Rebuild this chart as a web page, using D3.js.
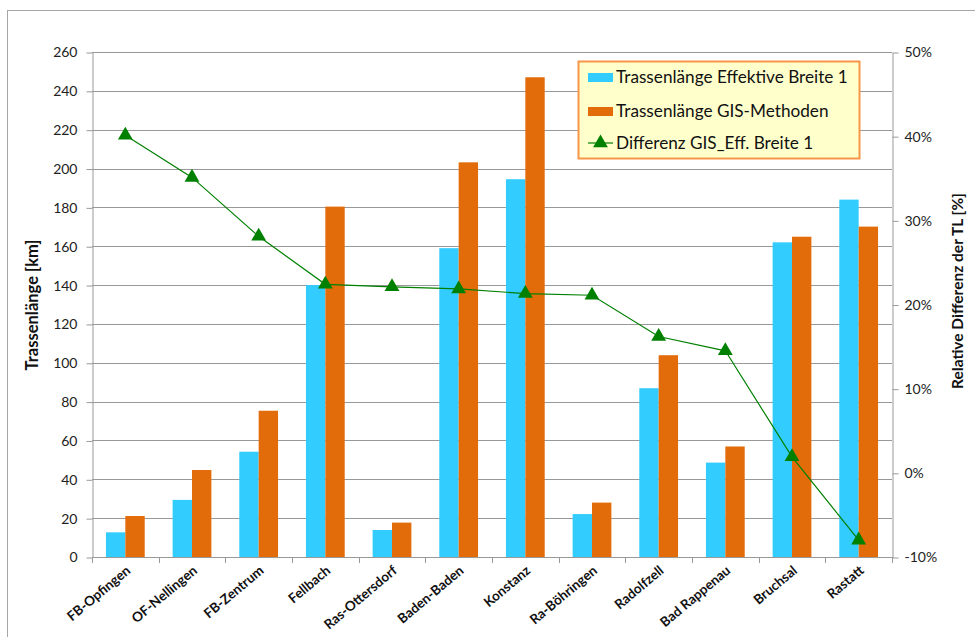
<!DOCTYPE html>
<html><head><meta charset="utf-8">
<script src="https://cdn.jsdelivr.net/npm/d3@7"></script>
<style>body{margin:0;background:#fff}svg{display:block}text{font-family:Lato,"Open Sans",sans-serif}</style>
</head><body>
<svg id="c" width="975" height="637"></svg>
<script>
const categories = ["FB-Opfingen","OF-Nellingen","FB-Zentrum","Fellbach","Ras-Ottersdorf","Baden-Baden","Konstanz","Ra-Böhringen","Radolfzell","Bad Rappenau","Bruchsal","Rastatt"];
const effBreite = [12.7, 29.4, 54.2, 140, 13.9, 159, 194.5, 22.1, 86.9, 48.6, 162, 184];
const gisMethoden = [21.1, 44.8, 75.3, 180.4, 17.7, 203.2, 247, 28, 103.9, 56.9, 164.9, 170.1];
const differenz = [40.1, 35.1, 28.1, 22.4, 22.1, 21.85, 21.3, 21.1, 16.2, 14.5, 1.9, -8.0];
const leftTicks = d3.range(0, 261, 20);
const rightTicks = [-10, 0, 10, 20, 30, 40, 50];
const seriesNames = ["Trassenlänge Effektive Breite 1","Trassenlänge GIS-Methoden","Differenz GIS_Eff. Breite 1"];

const svg = d3.select("#c");
const L = 92, R = 892, T = 52, B = 557;
const cyan = "#33CCFF", orange = "#E36C0A", green = "#008000", grid = "#999";

svg.append("rect").attr("x",7.5).attr("y",10.5).attr("width",1200).attr("height",1200)
  .attr("fill","none").attr("stroke","#a6a6a6").attr("stroke-width",1);

const x = d3.scaleBand().domain(categories).range([L, R]).paddingInner(0).paddingOuter(0);
const x1 = d3.scaleBand().domain([0,1]).range([0, x.bandwidth()]).paddingInner(0).paddingOuter(0.72);
const y = d3.scaleLinear().domain([0, 260]).range([B, T]);
const y2 = d3.scaleLinear().domain([-10, 50]).range([B, T]);

svg.append("g").selectAll("line").data(leftTicks.filter(d=>d>0)).join("line")
  .attr("x1", L).attr("x2", R).attr("y1", d=>Math.round(y(d))+0.5).attr("y2", d=>Math.round(y(d))+0.5)
  .attr("stroke", grid).attr("stroke-width", 1);

const g = svg.append("g");
categories.forEach((c,i)=>{
  g.append("rect").attr("x", x(c)+x1(0)).attr("width", x1.bandwidth())
    .attr("y", y(effBreite[i])).attr("height", B - y(effBreite[i])).attr("fill", cyan);
  g.append("rect").attr("x", x(c)+x1(1)).attr("width", x1.bandwidth())
    .attr("y", y(gisMethoden[i])).attr("height", B - y(gisMethoden[i])).attr("fill", orange);
});

const ax = d3.axisLeft(y).tickValues(leftTicks).tickSize(6).tickSizeOuter(0).tickFormat(d3.format("d"));
const gl = svg.append("g").attr("transform", `translate(${L+0.5},0.5)`).call(ax);
gl.select(".domain").attr("stroke", grid);
gl.selectAll(".tick line").attr("stroke", grid);
gl.selectAll("text").attr("font-size", 14).attr("fill","#222").attr("x",-15);

const ar = d3.axisRight(y2).tickValues(rightTicks).tickSize(6).tickSizeOuter(0).tickFormat(d=>d+"%");
const gr = svg.append("g").attr("transform", `translate(${R+0.5},0.5)`).call(ar);
gr.select(".domain").attr("stroke", grid);
gr.selectAll(".tick line").attr("stroke", grid);
gr.selectAll("text").attr("font-size", 14).attr("fill","#222").attr("x",12);

svg.append("line").attr("x1",L).attr("x2",R).attr("y1",B+0.5).attr("y2",B+0.5).attr("stroke",grid);
const bounds = categories.map(c=>x(c)).concat([R]);
svg.append("g").selectAll("line").data(bounds).join("line")
  .attr("x1", d=>Math.round(d)+0.5).attr("x2", d=>Math.round(d)+0.5).attr("y1", B).attr("y2", B+6).attr("stroke", grid);
svg.append("g").selectAll("text").data(categories).join("text")
  .attr("transform", d=>`translate(${x(d)+x.bandwidth()/2+6},${B+15}) rotate(-40)`)
  .attr("text-anchor","end").attr("font-size",13.5).attr("font-weight","bold").attr("fill","#111")
  .text(d=>d);

const line = d3.line().x((d,i)=>x(categories[i])+x.bandwidth()/2).y(d=>y2(d));
svg.append("path").datum(differenz).attr("d", line).attr("fill","none").attr("stroke", green).attr("stroke-width",1.2);
const tri = d3.symbol().type(d3.symbolTriangle).size(95);
svg.append("g").selectAll("path").data(differenz).join("path")
  .attr("transform",(d,i)=>`translate(${x(categories[i])+x.bandwidth()/2},${y2(d)})`)
  .attr("d", tri).attr("fill", green);

svg.append("text").attr("transform","translate(38,305) rotate(-90)").attr("text-anchor","middle")
  .attr("font-size",16.5).attr("font-weight","bold").attr("fill","#111").text("Trassenlänge [km]");
svg.append("text").attr("transform","translate(963,291) rotate(-90)").attr("text-anchor","middle")
  .attr("font-size",15.5).attr("font-weight","bold").attr("fill","#111").text("Relative Differenz der TL [%]");

const lg = svg.append("g");
lg.append("rect").attr("x",578.5).attr("y",61.5).attr("width",281).attr("height",97)
  .attr("fill","#FFFFCC").attr("stroke","#F79646").attr("stroke-width",2);
const ly = [77, 111, 143];
lg.append("rect").attr("x",588).attr("y",ly[0]-4).attr("width",25).attr("height",9).attr("fill",cyan);
lg.append("rect").attr("x",588).attr("y",ly[1]-4).attr("width",25).attr("height",9).attr("fill",orange);
lg.append("line").attr("x1",588).attr("x2",613).attr("y1",ly[2]).attr("y2",ly[2]).attr("stroke",green).attr("stroke-width",1.2);
lg.append("path").attr("transform",`translate(600.5,${ly[2]})`).attr("d",tri).attr("fill",green);
seriesNames.forEach((n,i)=>{
  lg.append("text").attr("x",616).attr("y",ly[i]+6).attr("font-size",17.2).attr("fill","#111").text(n);
});
</script>
</body></html>
